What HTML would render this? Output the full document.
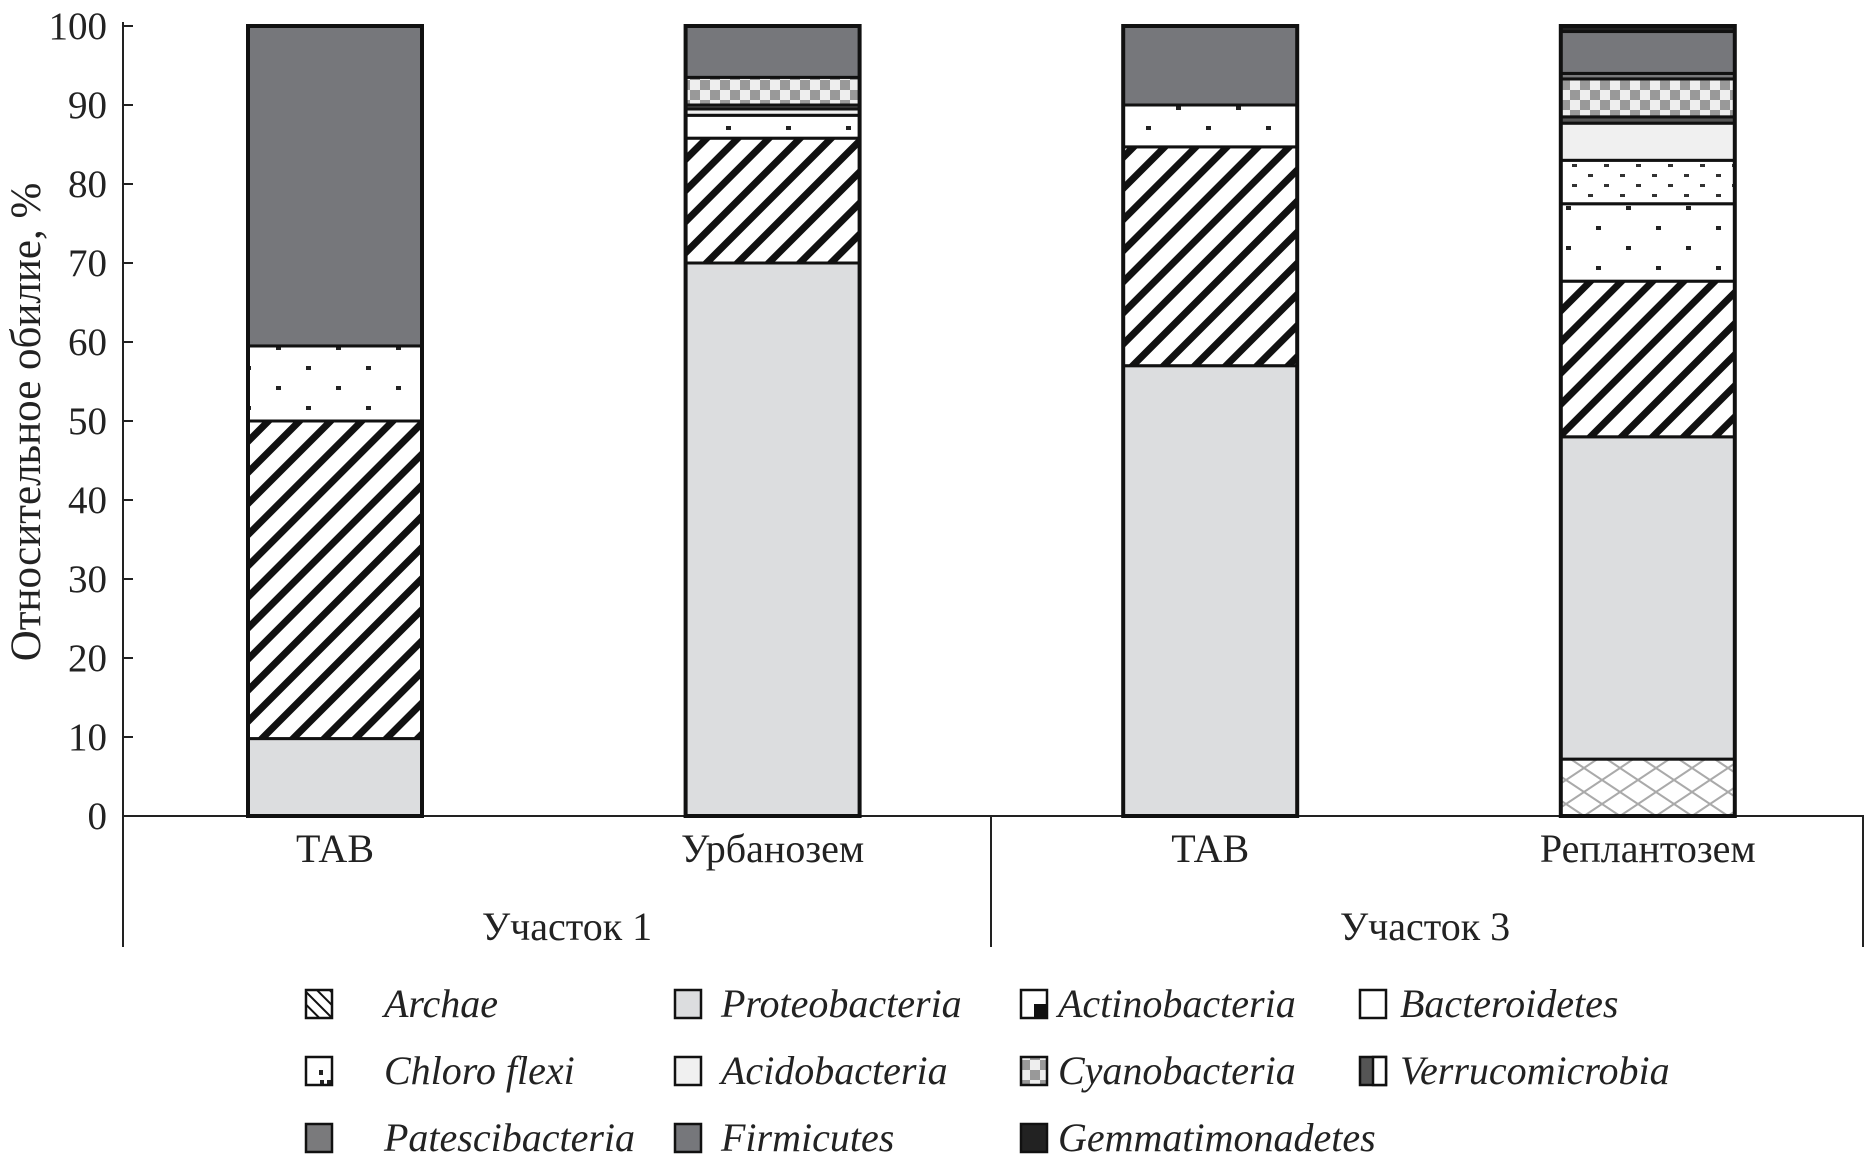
<!DOCTYPE html>
<html><head><meta charset="utf-8"><style>
html,body{margin:0;padding:0;background:#fff;}
svg{display:block;font-family:"Liberation Serif",serif;}
</style></head><body>
<svg id="chart" width="1868" height="1168" viewBox="0 0 1868 1168">
<defs>
<pattern id="p-archae" width="22" height="22" patternUnits="userSpaceOnUse" patternTransform="rotate(45)">
<rect width="22" height="22" fill="#fff"/><rect width="7" height="22" fill="#111"/></pattern>
<pattern id="p-archae-sw" width="9" height="9" patternUnits="userSpaceOnUse" patternTransform="rotate(-45)">
<rect width="9" height="9" fill="#fff"/><rect width="2" height="9" fill="#111"/></pattern>
<pattern id="p-chloro" width="60" height="40" patternUnits="userSpaceOnUse">
<rect width="60" height="40" fill="#fff"/><rect x="6" y="6" width="5" height="4" fill="#222"/><rect x="36" y="26" width="5" height="4" fill="#222"/></pattern>
<pattern id="p-chloro-sw" width="26" height="28" patternUnits="userSpaceOnUse">
<rect width="26" height="28" fill="#fff"/><rect x="7" y="6" width="4" height="5" fill="#222"/><rect x="8" y="16" width="4" height="5" fill="#222"/><rect x="15" y="16" width="4" height="5" fill="#222"/></pattern>
<pattern id="p-actino" width="32" height="20" patternUnits="userSpaceOnUse">
<rect width="32" height="20" fill="#fff"/><rect x="4" y="4" width="5" height="3" fill="#333"/><rect x="20" y="14" width="5" height="3" fill="#333"/></pattern>
<pattern id="p-cyano" width="20" height="20" patternUnits="userSpaceOnUse">
<rect width="20" height="20" fill="#eee"/><rect width="10" height="10" fill="#999"/><rect x="10" y="10" width="10" height="10" fill="#999"/></pattern>
<pattern id="p-lattice" width="36" height="24" patternUnits="userSpaceOnUse">
<rect width="36" height="24" fill="#fff"/><path d="M0 0L36 24M36 0L0 24" stroke="#aaa" stroke-width="2"/></pattern>
</defs>
<g id="plot"></g>
</svg>
<script>
const categories=["ТАВ","Урбанозем","ТАВ","Реплантозем"];
const seriesNames=["Bacteroidetes","Proteobacteria","Archae","Chloroflexi","Actinobacteria","Acidobacteria","Verrucomicrobia","Cyanobacteria","Patescibacteria","Firmicutes","Gemmatimonadetes"];
const sBacteroidetes=[0,0,0,7.2];
const sProteobacteria=[9.8,70,57,40.8];
const sArchae=[40.2,15.8,27.7,19.7];
const sChloroflexi=[9.5,2.9,5.3,9.8];
const sActinobacteria=[0,0,0,5.5];
const sAcidobacteria=[0,0.8,0,4.7];
const sVerrucomicrobia=[0,0.5,0,0.8];
const sCyanobacteria=[0,3.5,0,4.8];
const sPatescibacteria=[0,0,0,0.7];
const sFirmicutes=[40.5,6.5,10,5.3];
const sGemmatimonadetes=[0,0,0,0.7];
const yTicks=[0,10,20,30,40,50,60,70,80,90,100];
const groups=["Участок 1","Участок 3"];

const seriesData=[sBacteroidetes,sProteobacteria,sArchae,sChloroflexi,sActinobacteria,sAcidobacteria,sVerrucomicrobia,sCyanobacteria,sPatescibacteria,sFirmicutes,sGemmatimonadetes];
const fills=["url(#p-lattice)","#dcdddf","url(#p-archae)","url(#p-chloro)","url(#p-actino)","#f0f0f0","#555","url(#p-cyano)","#7a7a7c","#76777b","#222"];
const NS="http://www.w3.org/2000/svg";
const g=document.getElementById("plot");
const y0=816,y100=26,axL=123,axR=1864;
const yS=v=>y0-(y0-y100)*v/100;
const barW=174;
const xC=i=>335+i*437.6;
function el(t,a,p){const e=document.createElementNS(NS,t);for(const k in a)e.setAttribute(k,a[k]);(p||g).appendChild(e);return e;}
let ax=el("line",{x1:axL,y1:y100-4,x2:axL,y2:947,stroke:"#222","stroke-width":2});


let xa=el("line",{x1:axL,y1:y0,x2:axR,y2:y0,stroke:"#222","stroke-width":2});


let sep=el("line",{x1:991,y1:y0,x2:991,y2:947,stroke:"#222","stroke-width":2});


let sepR=el("line",{x1:axR-1,y1:y0,x2:axR-1,y2:947,stroke:"#222","stroke-width":2});


yTicks.forEach(v=>{
 let t=el("line",{x1:axL,y1:yS(v),x2:axL+10,y2:yS(v),stroke:"#222","stroke-width":2});
 
 
 let l=el("text",{x:107,y:yS(v)+13,"text-anchor":"end","font-size":39,fill:"#222"});
 l.textContent=v;
 
 
});
let yt=el("text",{x:0,y:0,"text-anchor":"middle","font-size":43,fill:"#222",transform:"translate(40,422) rotate(-90)"});
yt.textContent="Относительное обилие, %";


categories.forEach((c,i)=>{
 let cum=0;const x=xC(i)-barW/2;
 seriesData.forEach((s,k)=>{
  const v=s[i];if(!v)return;
  const r=el("rect",{x:x,y:yS(cum+v),width:barW,height:yS(cum)-yS(cum+v),fill:fills[k],stroke:"#111","stroke-width":3});
  
  
  cum+=v;
 });
 const o=el("rect",{x:x,y:yS(cum),width:barW,height:yS(0)-yS(cum),fill:"none",stroke:"#111","stroke-width":4});
 
 
 const t=el("text",{x:xC(i),y:862,"text-anchor":"middle","font-size":40,fill:"#222"});
 t.textContent=c;
 
 
});
groups.forEach((gname,j)=>{
 const t=el("text",{x:j?1425:567,y:940,"text-anchor":"middle","font-size":40,fill:"#222"});
 t.textContent=gname;
 
 
});
const legOrder=["Archae","Proteobacteria","Actinobacteria","Bacteroidetes","Chloroflexi","Acidobacteria","Cyanobacteria","Verrucomicrobia","Patescibacteria","Firmicutes","Gemmatimonadetes"];
const legFill={Archae:"url(#p-archae-sw)",Proteobacteria:"#dcdddf",Actinobacteria:"#fff",Bacteroidetes:"#fff",Chloroflexi:"url(#p-chloro-sw)",Acidobacteria:"#f0f0f0",Cyanobacteria:"url(#p-cyano)",Verrucomicrobia:"#555",Patescibacteria:"#7a7a7c",Firmicutes:"#76777b",Gemmatimonadetes:"#222"};
const swX=[306,675,1021,1360],txX=[384,721,1058,1400],rowY=[1004,1071,1138];
legOrder.forEach((n,i)=>{
 const c=i%4,r=Math.floor(i/4);
 const s=el("rect",{x:swX[c],y:rowY[r]-14,width:26,height:28,fill:legFill[n],stroke:"#111","stroke-width":2.5});
 
 
 if(n==="Actinobacteria"){const q=el("rect",{x:swX[c]+13,y:rowY[r],width:13,height:14,fill:"#111"});}
 if(n==="Verrucomicrobia"){const q=el("rect",{x:swX[c]+13,y:rowY[r]-14,width:13,height:28,fill:"#fff",stroke:"#111","stroke-width":2.5});}
 const t=el("text",{x:txX[c],y:rowY[r]+13,"font-size":40,"font-style":"italic",fill:"#222"});
 t.textContent=n==="Chloroflexi"?"Chloro flexi":n;
 
 
});
</script>
</body></html>
